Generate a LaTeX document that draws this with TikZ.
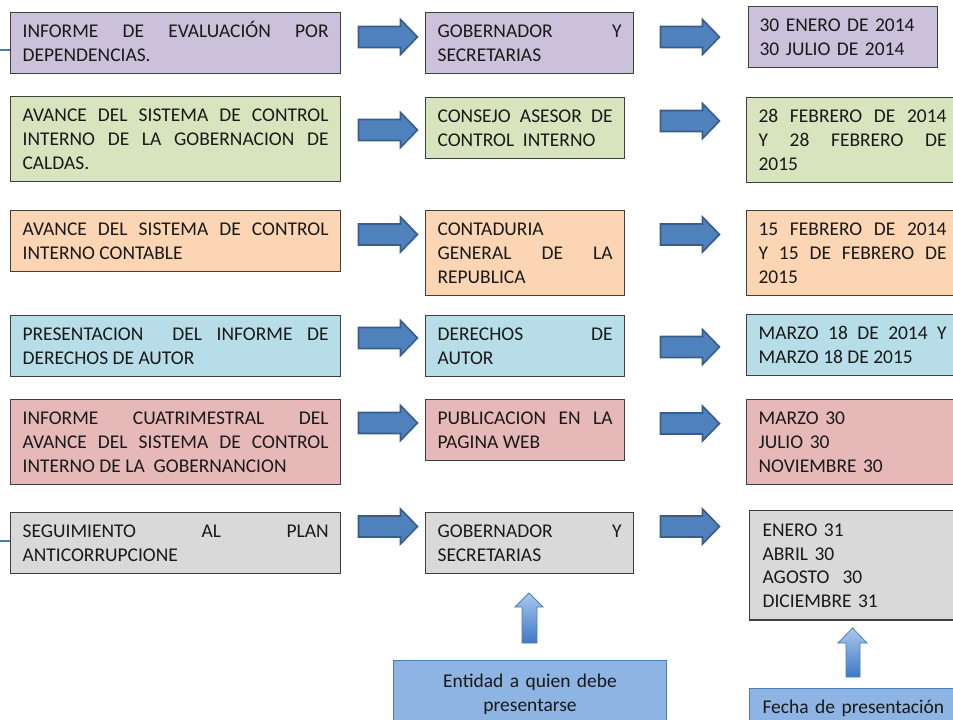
\documentclass[tikz,border=0pt]{standalone}
\usepackage{fontspec}
\setmainfont{Carlito}
\definecolor{purp}{HTML}{CCC1DA}
\definecolor{grn}{HTML}{D7E4BD}
\definecolor{orng}{HTML}{FCD5B5}
\definecolor{lblue}{HTML}{B7DEE8}
\definecolor{pink}{HTML}{E6B9B8}
\definecolor{gry}{HTML}{D9D9D9}
\definecolor{boxline}{HTML}{3F3F3F}
\definecolor{arrfill}{HTML}{4F81BD}
\definecolor{arrline}{HTML}{385D8A}
\definecolor{btmfill}{HTML}{8EB4E3}
\definecolor{btmline}{HTML}{4A7EBB}
\definecolor{uptop}{HTML}{A9C8EE}
\definecolor{upbot}{HTML}{3F78C4}
\newcommand{\Ts}{\rule{0pt}{18.75pt}}
\newcommand{\Bs}{\rule[-9pt]{0pt}{9pt}}
\newcommand{\bodyfont}{\fontsize{14.6pt}{17.9pt}\selectfont\tolerance=10000\hbadness=10000\hyphenpenalty=10000\exhyphenpenalty=10000}
\tikzset{
  box/.style={draw=boxline, line width=0.9pt, anchor=north west, inner xsep=9pt, inner ysep=0pt,
    align=justify, font=\bodyfont, text=black!90},
  lbox/.style={box, text width=229.5pt},
  mbox/.style={box, text width=131.25pt},
  mboxw/.style={box, text width=138pt},
  rbox/.style={box, text width=141pt},
  btmbox/.style={draw=btmline, line width=0.8pt, fill=btmfill, anchor=north west, inner ysep=0pt,
    font=\bodyfont, text=black!90},
  rarrowstyle/.style={fill=arrfill, draw=arrline, line width=1.2pt, line join=miter},
  uparrowstyle/.style={draw=btmline, line width=0.6pt, top color=uptop, bottom color=upbot},
  rarrow/.pic={\path[rarrowstyle] (1,-10.5) -- (43,-10.5) -- (43,-17.5) -- (60,0) -- (43,17.5) -- (43,10.5) -- (1,10.5) -- cycle;},
  sideline/.style={draw=btmline, line width=1.6pt}
}
\begin{document}
\begin{tikzpicture}[x=0.75pt,y=-0.75pt]
\useasboundingbox (0,0) rectangle (953,720);
% row 1
\node[lbox, fill=purp] (L1) at (10,12) {\noindent\Ts INFORME DE EVALUACIÓN POR\linebreak DEPENDENCIAS.\Bs};
\node[mboxw, fill=purp] (M1) at (425,12) {\noindent\Ts GOBERNADOR Y\linebreak SECRETARIAS\Bs};
\node[box, fill=purp, align=left, inner xsep=8.25pt, text width=125.25pt] (R1) at (748,6) {\Ts 30 ENERO DE 2014\\30 JULIO DE 2014\Bs};
% row 2
\node[lbox, fill=grn] (L2) at (10,96) {\noindent\Ts AVANCE DEL SISTEMA DE CONTROL\linebreak INTERNO DE LA GOBERNACION DE\linebreak CALDAS.\Bs};
\node[mbox, fill=grn] (M2) at (425,97) {\noindent\Ts CONSEJO ASESOR DE\linebreak CONTROL\ \ INTERNO\Bs};
\node[rbox, fill=grn] (R2) at (746,97) {\noindent\Ts 28 FEBRERO DE 2014\linebreak Y 28 FEBRERO DE\linebreak 2015\Bs};
% row 3
\node[lbox, fill=orng] (L3) at (10,210) {\noindent\Ts AVANCE DEL SISTEMA DE CONTROL\linebreak INTERNO CONTABLE\Bs};
\node[mbox, fill=orng] (M3) at (425,210) {\noindent\Ts CONTADURIA\hfill\break GENERAL DE LA\linebreak REPUBLICA\Bs};
\node[rbox, fill=orng] (R3) at (746,210) {\noindent\Ts 15 FEBRERO DE 2014\linebreak Y 15 DE FEBRERO DE\linebreak 2015\Bs};
% row 4
\node[lbox, fill=lblue] (L4) at (10,315) {\noindent\Ts PRESENTACION\ \ DEL INFORME DE\linebreak DERECHOS DE AUTOR\Bs};
\node[mbox, fill=lblue] (M4) at (425,315) {\noindent\Ts DERECHOS DE\linebreak AUTOR\Bs};
\node[rbox, fill=lblue] (R4) at (746,314) {\noindent\Ts MARZO 18 DE 2014 Y\linebreak MARZO 18 DE 2015\Bs};
% row 5
\node[lbox, fill=pink] (L5) at (10,399) {\noindent\Ts INFORME CUATRIMESTRAL DEL\linebreak AVANCE DEL SISTEMA DE CONTROL\linebreak INTERNO DE LA\ \ GOBERNANCION\Bs};
\node[mbox, fill=pink] (M5) at (425,399) {\noindent\Ts PUBLICACION EN LA\linebreak PAGINA WEB\Bs};
\node[rbox, fill=pink, align=left] (R5) at (746,399) {\Ts MARZO 30\\JULIO 30\\NOVIEMBRE 30\Bs};
% row 6
\node[lbox, fill=gry] (L6) at (10,512) {\noindent\Ts SEGUIMIENTO AL PLAN\linebreak ANTICORRUPCIONE\Bs};
\node[mboxw, fill=gry] (M6) at (425,512) {\noindent\Ts GOBERNADOR Y\linebreak SECRETARIAS\Bs};
\node[box, fill=gry, align=left, inner xsep=9.75pt, text width=142.5pt, font=\bodyfont\fontsize{14.6pt}{17.6pt}\selectfont] (R6) at (749,510) {\rule{0pt}{19.5pt}ENERO 31\\ABRIL 30\\AGOSTO\ \ 30\\DICIEMBRE 31\rule[-9.75pt]{0pt}{9.75pt}};
% bottom boxes
\node[btmbox, inner xsep=0pt, text width=204.75pt, align=center] (B1) at (393,660) {\rule{0pt}{20.25pt}Entidad a quien debe\\presentarse\rule[-15pt]{0pt}{15pt}};
\node[btmbox, inner xsep=9.75pt, text width=150pt, align=left] (B2) at (749,688) {\rule{0pt}{18.75pt}Fecha de presentación\rule[-15pt]{0pt}{15pt}};
% right arrows
\foreach \n/\xa/\ya in {a1/357.5/37, a2/357.5/130, a3/357.5/234.5, a4/357.5/338, a5/357.5/423, a6/357.5/526.5,
                       b1/659.5/37, b2/659.5/121, b3/659.5/234.5, b4/659.5/347, b5/659.5/423.5, b6/659.5/526.5}
  \pic (\n) at (\xa,\ya) {rarrow};
% up arrows
\path[uparrowstyle] (515,607) -- (529,593) -- (543,607) -- (537,607) -- (537,643) -- (522,643) -- (522,607) -- cycle;
\path[uparrowstyle] (838,643) -- (852.5,628) -- (867,643) -- (860,643) -- (860,677) -- (846,677) -- (846,643) -- cycle;
% side lines
\coordinate (s1) at (0,50);
\coordinate (s6) at (0,541);
\draw[sideline] (s1) -- (s1 -| L1.west);
\draw[sideline] (s6) -- (s6 -| L6.west);
\end{tikzpicture}
\end{document}
